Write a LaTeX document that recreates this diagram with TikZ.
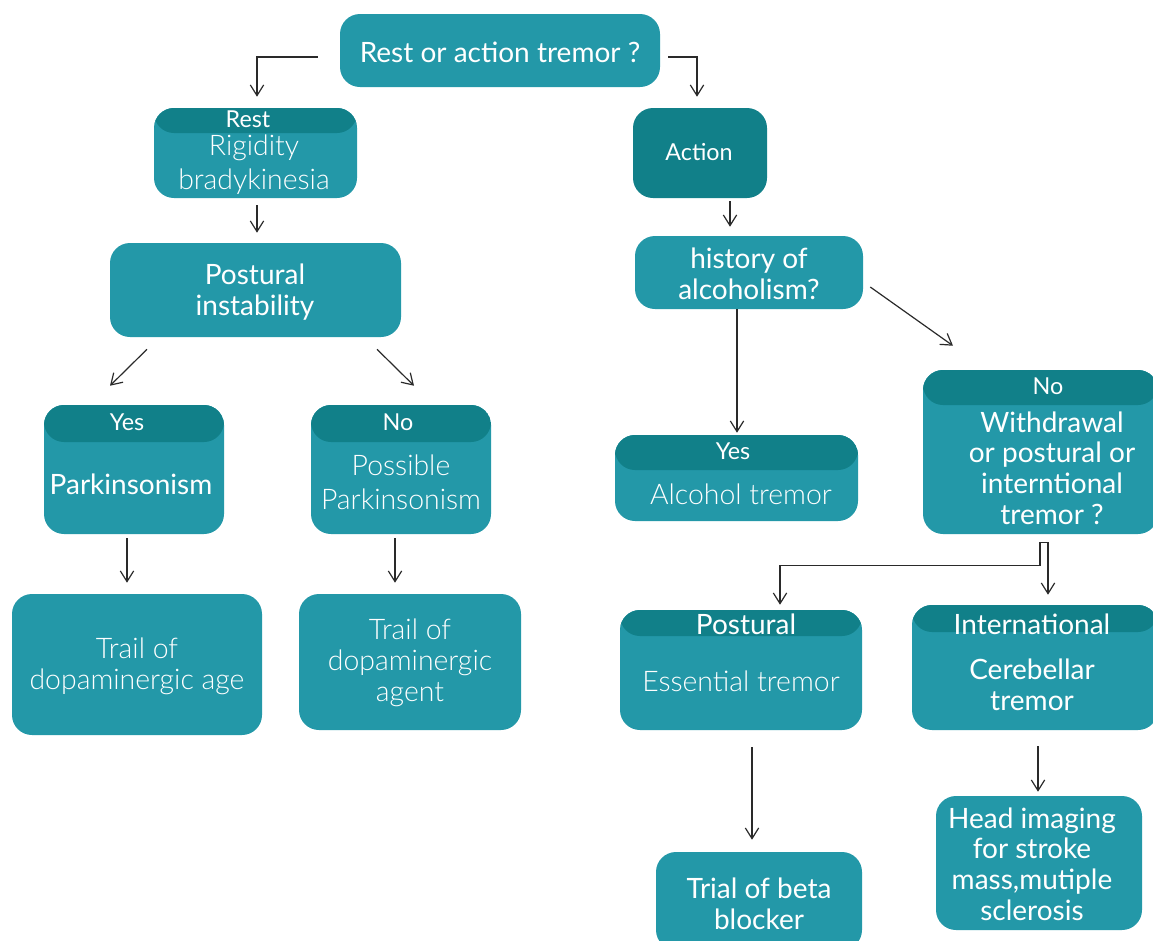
\documentclass[tikz,border=0pt]{standalone}
\usepackage{fontspec}
\setmainfont{Lato}
\newfontfamily\lightf{Lato Light}
\usetikzlibrary{arrows.meta,calc}
\definecolor{tealA}{HTML}{2398A8}
\definecolor{tealB}{HTML}{118089}
\definecolor{arrc}{HTML}{2A2A2A}
\begin{document}
\begin{tikzpicture}[x=0.75pt,y=-0.75pt,
  bx/.style 2 args={fill=tealA, draw=none, rounded corners=15pt, inner sep=0pt,
     minimum width=#1*0.75pt, minimum height=#2*0.75pt},
  dk/.style={fill=tealB},
  hdr/.style={path picture={\fill[tealB] (path picture bounding box.north west)
     rectangle ([yshift=-#1*0.75pt]path picture bounding box.north east);}},
  tx/.style={text=white, align=center, inner sep=0pt},
  fr/.style={font=\fontsize{21}{23}\selectfont},
  fl/.style={font=\lightf\fontsize{21.3}{23.3}\selectfont},
  flw/.style={font=\lightf\fontsize{21.3}{25.5}\selectfont},
  fh/.style={font=\fontsize{17.5}{20}\selectfont},
  arr/.style={draw=arrc, line width=0.9pt, -{Straight Barb[length=8pt,width=10pt]}}
]
\useasboundingbox (0,0) rectangle (1153,940);
\clip (0,0) rectangle (1153,940);

% boxes
\node[bx={320}{73}] (top) at (500,50.5) {};
\node[bx={203}{90}, hdr=25] (rest) at (255.5,153) {};
\node[bx={134}{90}, dk] (action) at (700,153) {};
\node[bx={291}{94}] (post) at (255.5,290) {};
\node[bx={228}{73}] (hist) at (749,272.5) {};
\node[bx={180}{129}, hdr=37] (yes1) at (134,469.5) {};
\node[bx={180}{129}, hdr=37] (no1) at (401,469.5) {};
\node[bx={250}{141}] (trail1) at (137,664.5) {};
\node[bx={222}{136}] (trail2) at (410,662) {};
\node[bx={243}{86}, hdr=35] (yes2) at (736.5,478) {};
\node[bx={235}{164}, hdr=35] (no2) at (1040.5,452) {};
\node[bx={242}{120}, hdr=26] (post2) at (741,670) {};
\node[bx={246}{125}, hdr=27] (intl) at (1035,667.5) {};
\node[bx={206}{98}] (beta) at (759,901) {};
\node[bx={206}{134}] (head) at (1039,863) {};

% texts
\node[tx,fr] (topt) at (500,52) {Rest or action tremor ?};
\node[tx,fh] (restt) at (248,119) {Rest};
\node[tx,flw] (rigt) at (254,165) {Rigidity\\bradykinesia};
\node[tx,fh] (actt) at (699,152) {Action};
\node[tx,fr] (postt) at (255,292) {Postural\\instability};
\node[tx,fr] (histt) at (749,274) {history of\\alcoholism?};
\node[tx,fh] (yes1t) at (127,422) {Yes};
\node[tx,fr] (park1t) at (131,484) {Parkinsonism};
\node[tx,fh] (no1t) at (398,422) {No};
\node[tx,flw] (park2t) at (401,482) {Possible\\Parkinsonism};
\node[tx,fl] (trail1t) at (137,666) {Trail of\\dopaminergic age};
\node[tx,fl] (trail2t) at (410,663) {Trail of\\dopaminergic\\agent};
\node[tx,fh] (yes2t) at (733,451) {Yes};
\node[tx,fl] (alct) at (741,494) {Alcohol tremor};
\node[tx,fh] (no2t) at (1048,386) {No};
\node[tx,fr] (witht) at (1052,468) {Withdrawal\\or postural or\\interntional\\tremor ?};
\node[tx,fr] (post2t) at (746,624) {Postural};
\node[tx,fl] (esst) at (741,681) {Essential tremor};
\node[tx,fr] (intlt) at (1032,624) {International};
\node[tx,fr] (cert) at (1032,685) {Cerebellar\\tremor};
\node[tx,fr] (betat) at (759,904) {Trial of beta\\blocker};
\node[tx,fr] (headt) at (1032,864) {Head imaging\\for stroke\\mass,mutiple\\sclerosis};

% connectors
\draw[arr] ($(top.west)+(-22,6.5)$) -| ($(rest.north)+(1.5,-11)$);
\draw[arr] ($(top.east)+(8,6.5)$) -| ($(action.north)+(-3,-11)$);
\draw[arr] ($(rest.south)+(1.5,7)$) -- ($(post.north)+(1.5,-10)$);
\draw[arr] ($(post.south)+(-108.5,12)$) -- ($(yes1.north)+(-24,-19)$);
\draw[arr] ($(post.south)+(121.5,12)$) -- ($(no1.north)+(13,-19)$);
\draw[arr] ($(yes1.south)+(-7,4)$) -- ($(trail1.north)+(-10,-11)$);
\draw[arr] ($(no1.south)+(-6,4)$) -- ($(trail2.north)+(-15,-11)$);
\draw[arr] ($(action.south)+(30,3)$) -- ($(hist.north)+(-19,-9)$);
\draw[arr] ($(hist.south)+(-12,0)$) -- ($(yes2.north)+(0.5,-2)$);
\draw[arr] ($(hist.east)+(7,14.5)$) -- ($(no2.north)+(-87.5,-24)$);
\coordinate (k1) at ($(no2.south)+(-0.5,8)$);
\coordinate (k2) at ($(no2.south)+(7.5,8)$);
\draw[arr] (k1) |- ($(post2.north)+(39,-44)$) -- ($(post2.north)+(39,-5)$);
\draw[arr] (k1) -- (k2) -- ($(intl.north)+(13,-10)$);
\draw[arr] ($(post2.south)+(11,17)$) -- ($(beta.north)+(-7,-12)$);
\draw[arr] ($(intl.south)+(3,16)$) -- ($(head.north)+(-1,-4)$);
\end{tikzpicture}
\end{document}
